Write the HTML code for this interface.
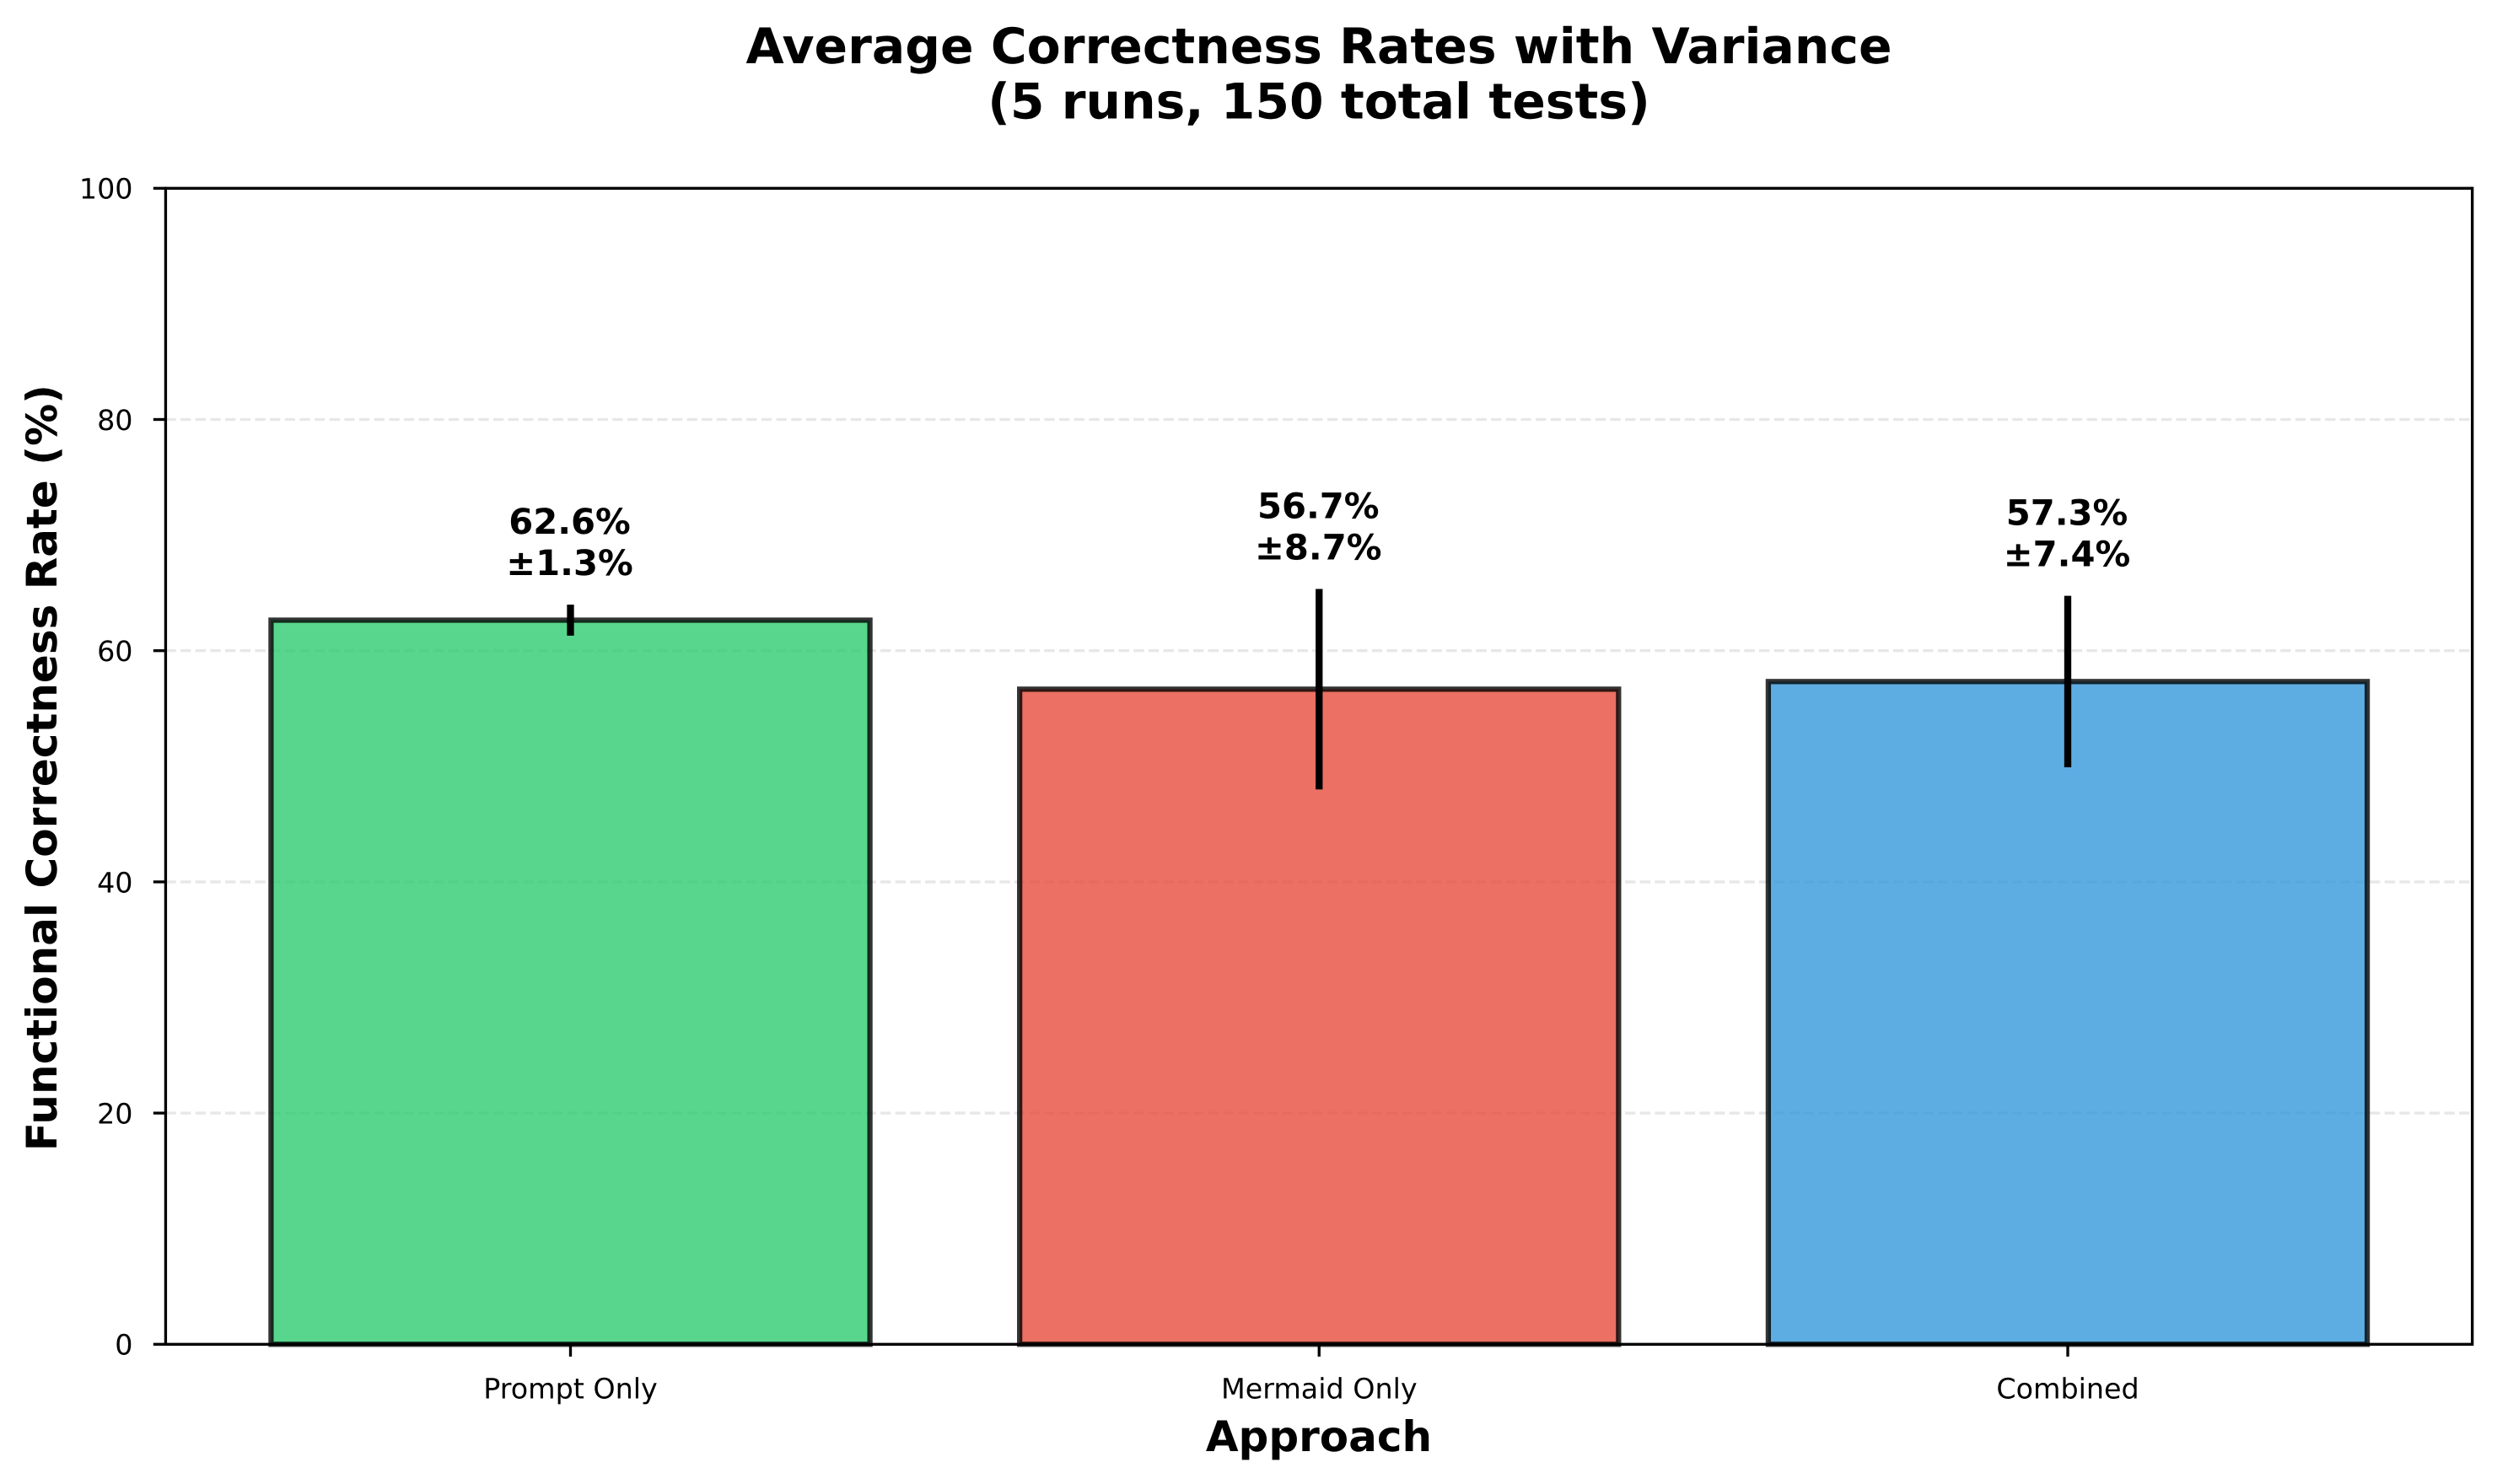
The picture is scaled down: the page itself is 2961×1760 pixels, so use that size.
<!DOCTYPE html>
<html lang="en">
<head>
<meta charset="utf-8">
<title>Average Correctness Rates with Variance</title>
<style>
html,body{margin:0;padding:0;background:#fff;width:2961px;height:1760px;overflow:hidden}
svg{display:block}
text{font-family:"DejaVu Sans","Liberation Sans",sans-serif;fill:#000;text-rendering:geometricPrecision}
.bold{font-weight:bold}
</style>
</head>
<body>
<svg id="chart" xmlns="http://www.w3.org/2000/svg" width="2961" height="1760" viewBox="0 0 2961 1760">
  <rect x="0" y="0" width="2961" height="1760" fill="#ffffff"/>
  <text class="bold" x="1564" y="75" font-size="58.33" text-anchor="middle">Average Correctness Rates with Variance</text>
  <text class="bold" x="1564" y="140.7" font-size="58.33" text-anchor="middle">(5 runs, 150 total tests)</text>
  <text class="bold" x="1564" y="1721" font-size="50" text-anchor="middle">Approach</text>
  <text class="bold" x="0" y="0" font-size="50" text-anchor="middle" transform="translate(67 910.6) rotate(-90)">Functional Correctness Rate (%)</text>
  <g id="grid"></g>
  <g id="bars"></g>
  <g id="errors"></g>
  <g id="value-labels"></g>
  <g id="ticks"></g>
  <g stroke="#000" stroke-width="3.33" fill="none">
    <line x1="196.4" y1="221.6" x2="196.4" y2="1596"/>
    <line x1="2931.7" y1="221.6" x2="2931.7" y2="1596"/>
    <line x1="196.4" y1="223.3" x2="2931.7" y2="223.3"/>
    <line x1="196.4" y1="1594.3" x2="2931.7" y2="1594.3"/>
  </g>
</svg>
<script>
const categories = ["Prompt Only", "Mermaid Only", "Combined"];
const meanValues = [62.64, 56.67, 57.33];
const errorValues = [1.34, 8.67, 7.42];
const barColors = ["#2ecc71", "#e74c3c", "#3498db"];
const yTicks = [0, 20, 40, 60, 80, 100];

const SVG_NS = "http://www.w3.org/2000/svg";
const plotTop = 223.3, plotBottom = 1594.3;
const firstCenter = 676.5, centerStep = 887.75, barWidth = 0.8;
const yMin = 0, yMax = 100;
const labelGap = 2;

function yScale(v) { return plotBottom - (v - yMin) / (yMax - yMin) * (plotBottom - plotTop); }
function xScale(i) { return firstCenter + i * centerStep; }
function make(tag, parent) {
  const el = document.createElementNS(SVG_NS, tag);
  parent.appendChild(el);
  return el;
}
function setAll(el, attrs) { for (const k in attrs) el.setAttribute(k, attrs[k]); }

const grid = document.getElementById("grid");
const bars = document.getElementById("bars");
const errors = document.getElementById("errors");
const valueLabels = document.getElementById("value-labels");
const ticks = document.getElementById("ticks");

yTicks.forEach(function (t) {
  const y = yScale(t);
  if (t > yMin && t < yMax) {
    const g = make("line", grid);
    
    
    setAll(g, { x1: 196.4, x2: 2931.7, y1: y, y2: y, stroke: "#b0b0b0", "stroke-opacity": 0.3, "stroke-width": 3.33, "stroke-dasharray": "12.33 5.33" });
  }
  const tick = make("line", ticks);
  
  
  setAll(tick, { x1: 181.8, x2: 196.4, y1: y, y2: y, stroke: "#000", "stroke-width": 3.33 });
  const label = make("text", ticks);
  
  
  setAll(label, { x: 157.5, y: y + 12.4, "font-size": 33.33, "text-anchor": "end" });
  label.textContent = String(t);
});

categories.forEach(function (name, i) {
  const cx = xScale(i);
  const mean = meanValues[i];
  const err = errorValues[i];
  const w = barWidth * centerStep;

  const bar = make("rect", bars);
  
  
  setAll(bar, { x: cx - w / 2, y: yScale(mean), width: w, height: yScale(0) - yScale(mean), fill: barColors[i], "fill-opacity": 0.8, stroke: "#000", "stroke-opacity": 0.8, "stroke-width": 6.25, "stroke-linejoin": "miter" });

  const eb = make("line", errors);
  
  
  setAll(eb, { x1: cx, x2: cx, y1: yScale(mean - err), y2: yScale(mean + err), stroke: "#000", "stroke-width": 8.33 });

  const baseY = yScale(mean + err + labelGap) - 7.7;
  const l1 = make("text", valueLabels);
  
  
  setAll(l1, { x: cx - 1, y: baseY - 49, "font-size": 41.67, "font-weight": "bold", "text-anchor": "middle" });
  l1.textContent = mean.toFixed(1) + "%";
  const l2 = make("text", valueLabels);
  
  
  setAll(l2, { x: cx - 1, y: baseY, "font-size": 41.67, "font-weight": "bold", "text-anchor": "middle" });
  l2.textContent = "\u00b1" + err.toFixed(1) + "%";

  const tick = make("line", ticks);
  
  
  setAll(tick, { x1: cx, x2: cx, y1: 1594.3, y2: 1608.9, stroke: "#000", "stroke-width": 3.33 });
  const label = make("text", ticks);
  
  
  setAll(label, { x: cx, y: 1658.5, "font-size": 33.33, "text-anchor": "middle" });
  label.textContent = name;
});
</script>
</body>
</html>
